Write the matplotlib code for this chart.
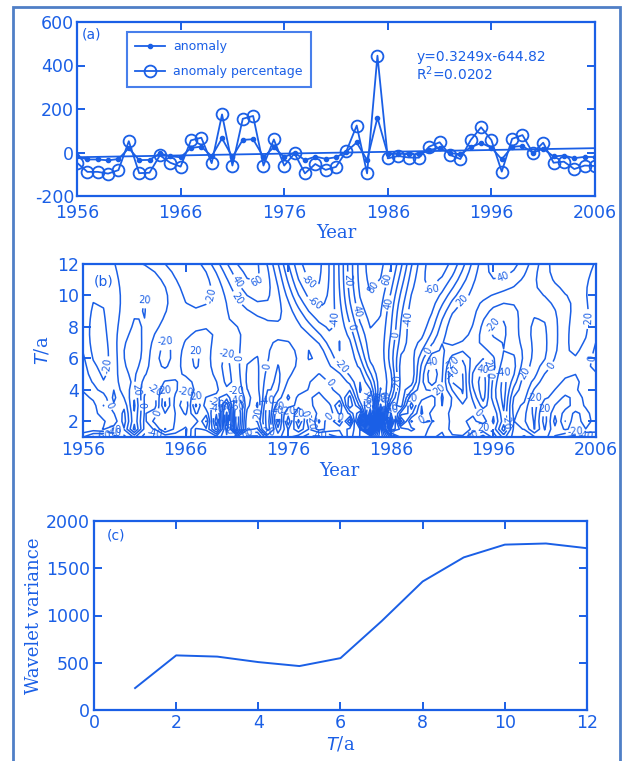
import numpy as np
import matplotlib
matplotlib.use("Agg")
import matplotlib.pyplot as plt
from matplotlib.patches import Rectangle

# ---------------- data ----------------
years = list(range(1956, 2007))
anomaly_pct = [-47, -89, -89, -97, -81, 52, -95, -93, -13, -47, -65, 56, 68,
               -49, 175, -60, 155, 168, -60, 60, -60, -4, -96, -53, -80, -66,
               6, 124, -96, 445, -27, -16, -23, -24, 27, 47, -11, -30, 57, 116,
               57, -88, 63, 80, -2, 45, -47, -42, -76, -60, -62]
anomaly = [-18, -32, -32, -36, -30, 20, -35, -34, -4, -17, -22, 21, 27,
           -17, 65, -21, 58, 61, -21, 24, -21, -1, -35, -19, -29, -22,
           4, 46, -35, 160, -9, -5, -8, -9, 12, 20, -3, -8, 24, 44,
           22, -31, 26, 30, -1, 17, -18, -14, -26, -20, -21]
periods_c = [1, 2, 3, 4, 5, 6, 7, 8, 9, 10, 11, 12]
wavelet_var = [232, 578, 565, 507, 465, 549, 940, 1360, 1615, 1750, 1762, 1712]
eq_text = "y=0.3249x-644.82"
r2_text = "R$^2$=0.0202"

BLUE = "#1a5fe6"
FRAME = "#4f7fc6"

plt.rcParams["font.family"] = ["DejaVu Sans"]
plt.rcParams["axes.unicode_minus"] = False
plt.rcParams["text.color"] = BLUE
plt.rcParams["axes.edgecolor"] = BLUE
plt.rcParams["xtick.color"] = BLUE
plt.rcParams["ytick.color"] = BLUE
plt.rcParams["axes.labelcolor"] = BLUE

fig = plt.figure(figsize=(6.23, 7.61), dpi=100)
fig.patch.set_facecolor("white")
fig.patches.append(Rectangle((13 / 623, -0.05), (620 - 13) / 623, 1.05 - 7 / 761,
                             transform=fig.transFigure, fill=False,
                             edgecolor=FRAME, linewidth=2.0))

def style(ax):
    for s in ax.spines.values():
        s.set_linewidth(1.6)
        s.set_color(BLUE)
    ax.tick_params(direction="in", top=True, right=True, length=6, width=1.4,
                   labelsize=12.5, pad=3)

# ---------------- (a) ----------------
axa = fig.add_axes([77 / 623, 1 - 196 / 761, 518 / 623, 174 / 761])
t = np.array(years, float)
pct = np.array(anomaly_pct, float)
coef = np.polyfit(t, pct, 1)
axa.plot(t, np.polyval(coef, t), color=BLUE, lw=1.3)
axa.plot(t, anomaly, color=BLUE, lw=1.3, marker="o", ms=3, mfc=BLUE, mec=BLUE,
         label="anomaly")
axa.plot(t, anomaly_pct, color=BLUE, lw=1.3, marker="o", ms=8.5, mfc="none",
         mec=BLUE, mew=1.3, label="anomaly percentage")
axa.set_xlim(1956, 2006)
axa.set_ylim(-200, 600)
axa.set_xticks([1956, 1966, 1976, 1986, 1996, 2006])
axa.set_yticks([-200, 0, 200, 400, 600])
style(axa)
axa.tick_params(axis="y", pad=2)
axa.tick_params(axis="x", pad=6)
axa.set_xlabel("Year", family="DejaVu Serif", fontsize=13, labelpad=1)
leg = axa.legend(loc="upper left", bbox_to_anchor=(0.096, 0.945), fontsize=9,
                 frameon=True, fancybox=False, edgecolor=BLUE, handlelength=2.4,
                 borderpad=0.7, labelspacing=0.95, borderaxespad=0,
                 handletextpad=0.6)
leg.get_frame().set_linewidth(1.5)
for txt in leg.get_texts():
    txt.set_color(BLUE)
axa.text(0.01, 0.93, "(a)", transform=axa.transAxes, fontsize=10, va="center")
axa.text(0.655, 0.80, eq_text, transform=axa.transAxes, fontsize=10,
         va="center")
axa.text(0.655, 0.705, r2_text, transform=axa.transAxes, fontsize=10, va="center")

# ---------------- (b) ----------------
axb = fig.add_axes([83 / 623, 1 - 437 / 761, 513 / 623, 173 / 761])
an = np.array(anomaly, float)
xs = an - an.mean()
b = t.copy()
per = np.arange(1, 12.01, 0.5)
W = np.zeros((len(per), len(b)))
for i, T in enumerate(per):
    a = T * 0.8125
    u = (t[None, :] - b[:, None]) / a
    psi = np.exp(-u ** 2 / 2) * np.cos(5 * u)
    W[i] = (psi * xs[None, :]).sum(axis=1) / np.sqrt(a)
levels = np.arange(-200, 201, 20)
cs = axb.contour(b, per, W, levels=levels, colors=BLUE, linewidths=1.1,
                 linestyles="solid")
label_levels = [lv for lv in cs.levels if abs(lv) <= 80]
axb.clabel(cs, levels=label_levels, inline=True, fontsize=7, fmt="%d",
           colors=BLUE, inline_spacing=2)
axb.set_xlim(1956, 2006)
axb.set_ylim(1, 12)
axb.set_xticks([1956, 1966, 1976, 1986, 1996, 2006])
axb.set_yticks([2, 4, 6, 8, 10, 12])
style(axb)
axb.set_xlabel("Year", family="DejaVu Serif", fontsize=13, labelpad=2)
axb.set_ylabel("$T$/a", family="DejaVu Serif", fontsize=13, labelpad=4)
axb.text(0.02, 0.9, "(b)", transform=axb.transAxes, fontsize=10, va="center")

# ---------------- (c) ----------------
axc = fig.add_axes([94 / 623, 1 - 710 / 761, 493 / 623, 189 / 761])
axc.plot(periods_c, wavelet_var, color=BLUE, lw=1.4)
axc.set_xlim(0, 12)
axc.set_ylim(0, 2000)
axc.set_xticks([0, 2, 4, 6, 8, 10, 12])
axc.set_yticks([0, 500, 1000, 1500, 2000])
style(axc)
axc.set_xlabel("$T$/a", family="DejaVu Serif", fontsize=13, labelpad=2)
axc.set_ylabel("Wavelet variance", family="DejaVu Serif", fontsize=13, labelpad=2)
axc.text(0.026, 0.925, "(c)", transform=axc.transAxes, fontsize=10, va="center")

fig.savefig("out.png", dpi=100)
